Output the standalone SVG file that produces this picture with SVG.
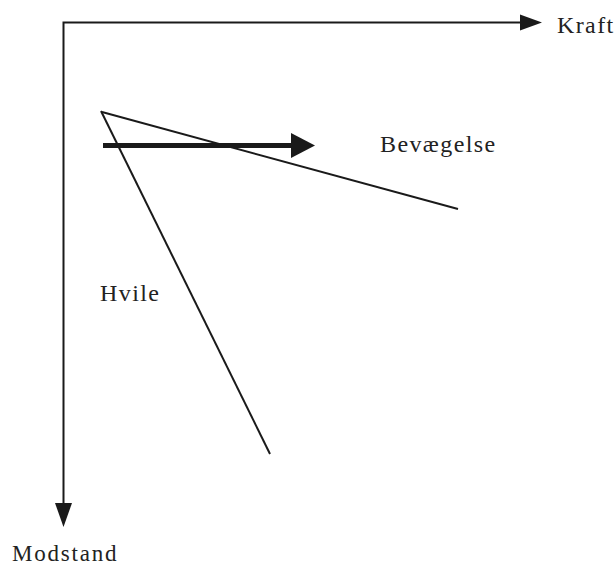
<svg xmlns="http://www.w3.org/2000/svg" width="616" height="567" viewBox="0 0 616 567">
<style>
.ln{stroke:#1a1a1a;stroke-width:2;fill:none}
.ah{fill:#1a1a1a}
text{font-family:"Liberation Serif","Times New Roman",serif;font-size:24px;fill:#222;letter-spacing:1.4px}
</style>
<rect width="616" height="567" fill="#fff"/>
<g id="connectors">
<path class="ln" d="M63.5,503 V22.5 H521"/>
<polygon class="ah" points="520,14.5 542,22.5 520,30.5"/>
<polygon class="ah" points="55,503 72,503 63.5,527"/>
<line class="ln" x1="102" y1="112" x2="458" y2="209"/>
<line class="ln" x1="101" y1="111" x2="270" y2="454"/>
<line x1="103" y1="145.5" x2="293" y2="145.5" stroke="#1a1a1a" stroke-width="5"/>
<polygon class="ah" points="291,133 315,145.5 291,158"/>
</g>
<g id="kraft"><text x="557" y="33">Kraft</text></g>
<g id="modstand"><text x="12" y="561" style="font-size:23px;letter-spacing:1.8px">Modstand</text></g>
<g id="bevaegelse"><text x="380" y="152">Bevægelse</text></g>
<g id="hvile"><text x="100" y="301">Hvile</text></g>
</svg>
